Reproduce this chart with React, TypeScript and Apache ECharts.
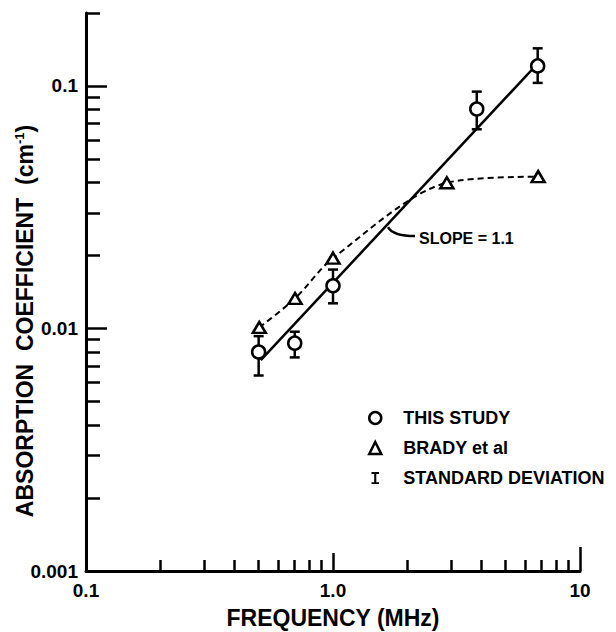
import React, { useEffect, useRef } from "react";
import * as echarts from "echarts";

// ---- data ----
const studyFreq = [0.5, 0.7, 1.0, 3.82, 6.74];
const studyAbs = [0.008, 0.0087, 0.015, 0.0804, 0.121];
const studyLow = [0.0064, 0.0076, 0.0127, 0.0663, 0.103];
const studyHigh = [0.0093, 0.0097, 0.0175, 0.0948, 0.143];

const bradyFreq = [0.503, 0.702, 1.0, 2.89, 6.77];
const bradyAbs = [0.0101, 0.0133, 0.0195, 0.0399, 0.0423];

const fitFreq = [0.51, 6.95];
const fitAbs = [0.0074, 0.128];

const slopeAnchor = [1.67, 0.0262];
const slopeText = "SLOPE = 1.1";

const xTickLabels = ["0.1", "1.0", "10"];
const yTickLabels = ["0.001", "0.01", "0.1"];
const xMinorTicks = [0.2, 0.3, 0.4, 0.5, 0.6, 0.7, 0.8, 0.9, 2, 3, 4, 5, 6, 7, 8, 9];
const xMidTicks = [1];
const xEndTicks = [10];
const yMinorTicks = [
  0.002, 0.003, 0.004, 0.005, 0.006, 0.007, 0.008, 0.009,
  0.02, 0.03, 0.04, 0.05, 0.06, 0.07, 0.08, 0.09, 0.2,
];
const yMajorTicks = [0.01, 0.1];

const X_MIN = 0.1;
const X_MAX = 10;
const Y_MIN = 0.001;
const Y_MAX = 0.2;

const FONT = "'Liberation Sans', Arial, sans-serif";

const W = 616;
const H = 632;

function logLabel(labels: string[], offset: number) {
  return (v: number) => {
    const e = Math.log10(v);
    const r = Math.round(e);
    if (Math.abs(e - r) > 1e-6) return "";
    return labels[r + offset] ?? "";
  };
}

// an extra, line-less axis that only contributes inside ticks at given values
function tickOnlyAxis(kind: "x" | "y", values: number[], len: number) {
  return {
    type: "log",
    logBase: 10,
    min: kind === "x" ? X_MIN : Y_MIN,
    max: kind === "x" ? X_MAX : Y_MAX,
    position: kind === "x" ? "bottom" : "left",
    offset: 0,
    axisLine: { show: false },
    axisLabel: { show: false },
    splitLine: { show: false },
    axisTick: {
      show: true,
      inside: true,
      length: len,
      customValues: values,
      lineStyle: { color: "#000", width: 2.5 },
    },
  };
}

export default function App() {
  const ref = useRef<HTMLDivElement>(null);

  useEffect(() => {
    if (!ref.current) return;
    const chart = echarts.init(ref.current, null, { renderer: "svg" });

    const option: any = {
      animation: false,
      backgroundColor: "#fff",
      grid: {
        left: 86,
        right: 36,
        top: 13,
        bottom: 61,
        containLabel: false,
        outerBoundsMode: "none",
      },
      xAxis: [
        {
          type: "log",
          logBase: 10,
          min: X_MIN,
          max: X_MAX,
          position: "bottom",
          axisLine: { show: true, lineStyle: { color: "#000", width: 3 } },
          axisTick: {
            show: true,
            inside: true,
            length: 11,
            customValues: xMinorTicks,
            lineStyle: { color: "#000", width: 2.5 },
          },
          splitLine: { show: false },
          axisLabel: {
            margin: 10,
            color: "#000",
            fontFamily: FONT,
            fontWeight: "bold",
            fontSize: 19,
            formatter: logLabel(xTickLabels, 1),
          },
          name: "FREQUENCY (MHz)",
          nameLocation: "middle",
          nameGap: 35,
          nameMoveOverlap: false,
          nameTextStyle: {
            color: "#000",
            fontFamily: FONT,
            fontWeight: "bold",
            fontSize: 23,
          },
        },
        tickOnlyAxis("x", xMidTicks, 18),
        tickOnlyAxis("x", xEndTicks, 24),
      ],
      yAxis: [
        {
          type: "log",
          logBase: 10,
          min: Y_MIN,
          max: Y_MAX,
          position: "left",
          axisLine: { show: true, lineStyle: { color: "#000", width: 3 } },
          axisTick: {
            show: true,
            inside: true,
            length: 14,
            customValues: yMinorTicks,
            lineStyle: { color: "#000", width: 2.5 },
          },
          splitLine: { show: false },
          axisLabel: {
            margin: 8,
            color: "#000",
            fontFamily: FONT,
            fontWeight: "bold",
            fontSize: 19,
            formatter: logLabel(yTickLabels, 3),
          },
          name: "ABSORPTION  COEFFICIENT  (cm{sup|-1})",
          nameLocation: "middle",
          nameRotate: 90,
          nameGap: 50,
          nameMoveOverlap: false,
          nameTextStyle: {
            color: "#000",
            fontFamily: FONT,
            fontWeight: "bold",
            fontSize: 23,
            padding: [0, 58, 0, 0],
            rich: {
              sup: {
                color: "#000",
                fontFamily: FONT,
                fontWeight: "bold",
                fontSize: 13,
                verticalAlign: "top",
                lineHeight: 23,
              },
            },
          },
        },
        tickOnlyAxis("y", yMajorTicks, 21),
      ],
      legend: {
        orient: "vertical",
        left: 363,
        top: 404,
        itemWidth: 12,
        itemHeight: 12,
        itemGap: 12,
        selectedMode: false,
        textStyle: {
          color: "#000",
          fontFamily: FONT,
          fontWeight: "bold",
          fontSize: 18,
          padding: [0, 0, 0, 17],
        },
        data: [
          {
            name: "THIS STUDY",
            icon: "circle",
            itemStyle: { color: "#fff", borderColor: "#000", borderWidth: 2.5 },
          },
          {
            name: "BRADY et al",
            icon: "triangle",
            itemStyle: { color: "#fff", borderColor: "#000", borderWidth: 2.5 },
          },
          {
            name: "STANDARD DEVIATION",
            icon: "path://M0,0H10V2.5H6.4V13.5H10V16H0V13.5H3.6V2.5H0Z",
            itemStyle: { color: "#000", borderWidth: 0 },
          },
        ],
      },
      series: [
        {
          type: "line",
          silent: true,
          z: 2,
          symbol: "none",
          data: fitFreq.map((f, i) => [f, fitAbs[i]]),
          lineStyle: { color: "#000", width: 2.5 },
        },
        {
          name: "BRADY et al",
          type: "line",
          z: 3,
          smooth: 0.3,
          symbol: "triangle",
          symbolSize: [13, 11],
          data: bradyFreq.map((f, i) => [f, bradyAbs[i]]),
          itemStyle: { color: "#fff", borderColor: "#000", borderWidth: 2.5 },
          lineStyle: { color: "#000", width: 2, type: [6, 4] },
        },
        {
          name: "STANDARD DEVIATION",
          type: "custom",
          z: 4,
          clip: false,
          itemStyle: { color: "#000" },
          encode: { x: 0, y: [1, 2] },
          data: studyFreq.map((f, i) => [f, studyLow[i], studyHigh[i]]),
          renderItem: (params: any, api: any) => {
            const lo = api.coord([api.value(0), api.value(1)]);
            const hi = api.coord([api.value(0), api.value(2)]);
            const w = 5;
            const st = { stroke: "#000", lineWidth: 2.5 };
            return {
              type: "group",
              children: [
                { type: "line", shape: { x1: lo[0], y1: lo[1], x2: hi[0], y2: hi[1] }, style: st },
                { type: "line", shape: { x1: lo[0] - w, y1: lo[1], x2: lo[0] + w, y2: lo[1] }, style: st },
                { type: "line", shape: { x1: hi[0] - w, y1: hi[1], x2: hi[0] + w, y2: hi[1] }, style: st },
              ],
            };
          },
        },
        {
          name: "THIS STUDY",
          type: "scatter",
          z: 5,
          symbol: "circle",
          symbolSize: 13,
          data: studyFreq.map((f, i) => [f, studyAbs[i]]),
          itemStyle: { color: "#fff", borderColor: "#000", borderWidth: 2.5, opacity: 1 },
        },
        {
          type: "custom",
          silent: true,
          z: 6,
          clip: false,
          data: [slopeAnchor],
          renderItem: (params: any, api: any) => {
            const p = api.coord([api.value(0), api.value(1)]);
            return {
              type: "group",
              children: [
                {
                  type: "bezierCurve",
                  shape: {
                    x1: p[0],
                    y1: p[1],
                    cpx1: p[0] + 5,
                    cpy1: p[1] + 9,
                    x2: p[0] + 27,
                    y2: p[1] + 9,
                  },
                  style: { stroke: "#000", lineWidth: 2.5, fill: "none" },
                },
                {
                  type: "text",
                  x: p[0] + 31,
                  y: p[1] + 11,
                  style: {
                    text: slopeText,
                    fill: "#000",
                    font: `bold 16px ${FONT}`,
                    verticalAlign: "middle",
                    align: "left",
                  },
                },
              ],
            };
          },
        },
      ],
    };

    chart.setOption(option);
    return () => chart.dispose();
  }, []);

  return (
    <div
      ref={ref}
      style={{ position: "fixed", left: 0, top: 0, width: W, height: H, background: "#fff" }}
    />
  );
}
